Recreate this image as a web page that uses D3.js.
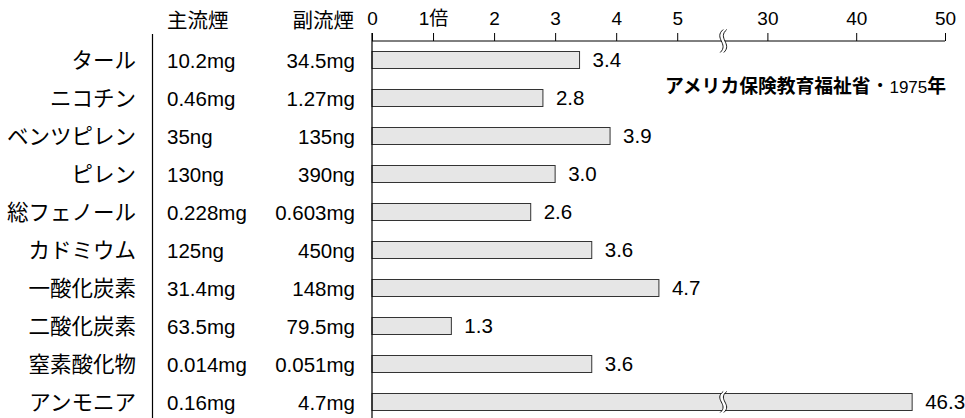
<!DOCTYPE html>
<html>
<head>
<meta charset="utf-8">
<script src="https://cdn.jsdelivr.net/npm/d3@7"></script>
<style>
  body { margin: 0; background: #fff; }
  svg { display: block; font-family: "Liberation Sans", Arial, "Noto Sans CJK JP", sans-serif; }
</style>
</head>
<body>
<div id="chart"></div>
<script>
const items = ['タール', 'ニコチン', 'ベンツピレン', 'ピレン', '総フェノール', 'カドミウム', '一酸化炭素', '二酸化炭素', '窒素酸化物', 'アンモニア'];
const mainSmoke = ['10.2mg', '0.46mg', '35ng', '130ng', '0.228mg', '125ng', '31.4mg', '63.5mg', '0.014mg', '0.16mg'];
const sideSmoke = ['34.5mg', '1.27mg', '135ng', '390ng', '0.603mg', '450ng', '148mg', '79.5mg', '0.051mg', '4.7mg'];
const ratios = [3.4, 2.8, 3.9, 3.0, 2.6, 3.6, 4.7, 1.3, 3.6, 46.3];
const tickValues = [0, 1, 2, 3, 4, 5, 30, 40, 50];
const tickLabels = ['0', '1倍', '2', '3', '4', '5', '30', '40', '50'];
const breakAt = [5.75, 25];

const width = 965, height = 418;
const jp = '"Noto Sans CJK JP", sans-serif';

const svg = d3.select('#chart').append('svg')
  .attr('width', width)
  .attr('height', height);

// broken axis: 0-5.75 then 25-50
const x = d3.scaleLinear()
  .domain([0, breakAt[0], breakAt[1], 50])
  .range([372, 723, 723, 945]);

const y = d3.scalePoint()
  .domain(items)
  .range([60, 402]);

const barH = 17;
const axisY = 41;

// header
svg.append('text')
  .attr('x', 167).attr('y', 28)
  .attr('font-family', jp)
  .attr('font-size', 20.5)
  .text('主流煙');
svg.append('text')
  .attr('x', 354).attr('y', 28)
  .attr('text-anchor', 'end')
  .attr('font-family', jp)
  .attr('font-size', 20.5)
  .text('副流煙');

// left separator
svg.append('line')
  .attr('x1', 152.5).attr('x2', 152.5)
  .attr('y1', 34).attr('y2', height)
  .attr('stroke', '#000')
  .attr('stroke-width', 1.2);

const rows = svg.append('g')
  .selectAll('g')
  .data(items)
  .join('g')
  .attr('transform', d => `translate(0,${y(d)})`);

rows.append('text')
  .attr('x', 136).attr('y', 7.5)
  .attr('text-anchor', 'end')
  .attr('font-family', jp)
  .attr('font-size', 21.5)
  .text(d => d);

rows.append('text')
  .attr('x', 167).attr('y', 7.5)
  .attr('font-size', 20.5)
  .text((d, i) => mainSmoke[i]);

rows.append('text')
  .attr('x', 355).attr('y', 7.5)
  .attr('text-anchor', 'end')
  .attr('font-size', 20.5)
  .text((d, i) => sideSmoke[i]);

// bars
rows.append('rect')
  .attr('x', x(0))
  .attr('y', -barH / 2)
  .attr('width', (d, i) => x(ratios[i]) - x(0))
  .attr('height', barH)
  .attr('fill', '#e6e6e6')
  .attr('stroke', '#333')
  .attr('stroke-width', 1);

rows.append('text')
  .attr('x', (d, i) => x(ratios[i]) + 13)
  .attr('y', 7)
  .attr('font-size', 20.5)
  .text((d, i) => ratios[i].toFixed(1));

// top axis
const axis = d3.axisTop(x)
  .tickValues(tickValues)
  .tickFormat((d, i) => tickLabels[i])
  .tickSize(8)
  .tickSizeOuter(0);

const gAxis = svg.append('g')
  .attr('transform', `translate(0,${axisY})`)
  .call(axis);
gAxis.select('.domain').remove();
gAxis.append('line')
  .attr('x1', x(0)).attr('x2', x(50))
  .attr('stroke', '#000');
gAxis.selectAll('.tick line').attr('stroke', '#000');
gAxis.selectAll('.tick text')
  .attr('fill', '#000')
  .attr('font-size', 19)
  .attr('font-family', '"Liberation Sans", Arial, "Noto Sans CJK JP", sans-serif')
  .attr('dy', -5);

// vertical zero line
svg.append('line')
  .attr('x1', x(0)).attr('x2', x(0))
  .attr('y1', 33).attr('y2', height)
  .attr('stroke', '#000')
  .attr('stroke-width', 1.2);

// break marks (double wavy line with white gap)
function breakMark(cx, cy, h) {
  const g = svg.append('g').attr('transform', `translate(${cx},${cy})`);
  const half = h / 2;
  const wave = dx => `M${dx + 2},${-half} C${dx - 8},${-half / 4} ${dx + 8},${half / 4} ${dx - 1},${half}`;
  const back = dx => `L${dx - 1},${half} C${dx + 8},${half / 4} ${dx - 8},${-half / 4} ${dx + 2},${-half} Z`;
  g.append('path')
    .attr('d', wave(-1.8) + back(1.8))
    .attr('fill', '#fff');
  g.append('path').attr('d', wave(-1.8)).attr('fill', 'none').attr('stroke', '#000').attr('stroke-width', 0.9);
  g.append('path').attr('d', wave(1.8)).attr('fill', 'none').attr('stroke', '#000').attr('stroke-width', 0.9);
}
breakMark(x(breakAt[0]), axisY, 23);
breakMark(x(breakAt[0]), y(items[items.length - 1]), 21);

// source note
const note = svg.append('text')
  .attr('x', 665).attr('y', 93)
  .attr('font-family', jp)
  .attr('font-size', 18.8)
  .attr('font-weight', 'bold');
note.append('tspan').text('アメリカ保険教育福祉省');
note.append('tspan').attr('font-weight', 'normal').text('・');
note.append('tspan').attr('font-weight', 'normal').attr('font-size', 17)
  .attr('font-family', '"Liberation Sans", Arial, sans-serif').text('1975');
note.append('tspan').text('年');
</script>
</body>
</html>
